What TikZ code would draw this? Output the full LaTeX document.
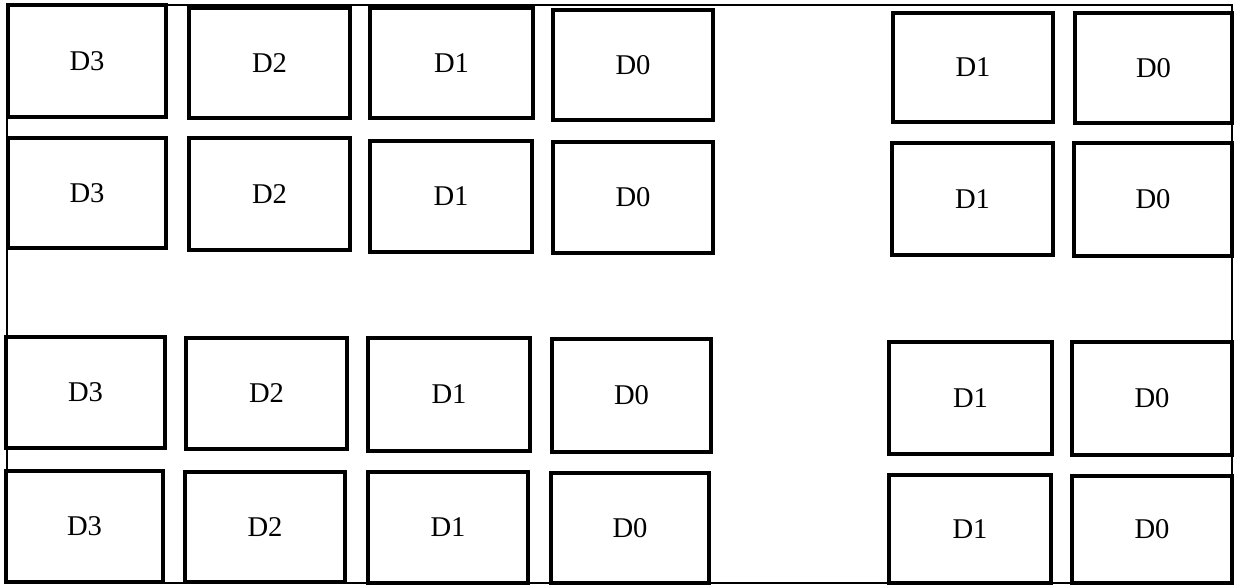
\documentclass[tikz,border=0pt]{standalone}
\usepackage{fontspec}
\setmainfont{Liberation Serif}
\tikzset{
  cell/.style={draw=black, line width=1.8pt, inner sep=0pt, font=\fontsize{14.3}{16}\selectfont},
  frameline/.style={draw=black, line width=0.8pt}
}
\newcommand\cellbox[6]{%
  \pgfmathsetmacro\cw{(#4-#2)*0.5}%
  \pgfmathsetmacro\ch{(#5-#3)*0.5}%
  \node[cell, minimum width=\cw pt, minimum height=\ch pt] (#1) at ({(#2+#4)/2},{(#3+#5)/2}) {#6};}
\begin{document}
\begin{tikzpicture}[x=0.5pt, y=-0.5pt]
\useasboundingbox (0,0) rectangle (1234,586);
% outer frame
\coordinate (ftl) at (7,5);
\coordinate (fbr) at (1232,583);
\draw[frameline] (ftl) rectangle (fbr);
% row 1
\cellbox{a3}{8}{5}{166}{117}{D3}
\cellbox{a2}{189}{8}{350}{118}{D2}
\cellbox{a1}{370}{8}{533}{118}{D1}
\cellbox{a0}{553}{10}{713}{120}{D0}
\cellbox{ar1}{893}{13}{1053}{122}{D1}
\cellbox{ar0}{1075}{13}{1232}{123}{D0}
% row 2
\cellbox{b3}{8}{138}{166}{248}{D3}
\cellbox{b2}{189}{138}{350}{250}{D2}
\cellbox{b1}{370}{141}{532}{252}{D1}
\cellbox{b0}{553}{142}{713}{253}{D0}
\cellbox{br1}{892}{143}{1053}{255}{D1}
\cellbox{br0}{1074}{143}{1232}{256}{D0}
% row 3
\cellbox{c3}{6}{337}{165}{448}{D3}
\cellbox{c2}{186}{338}{347}{449}{D2}
\cellbox{c1}{368}{338}{530}{451}{D1}
\cellbox{c0}{552}{339}{711}{452}{D0}
\cellbox{cr1}{889}{342}{1052}{454}{D1}
\cellbox{cr0}{1072}{342}{1232}{455}{D0}
% row 4
\cellbox{d3}{6}{471}{163}{582}{D3}
\cellbox{d2}{185}{472}{345}{582}{D2}
\cellbox{d1}{368}{472}{528}{583}{D1}
\cellbox{d0}{551}{473}{709}{583}{D0}
\cellbox{dr1}{889}{475}{1051}{583}{D1}
\cellbox{dr0}{1072}{476}{1232}{583}{D0}
\end{tikzpicture}
\end{document}
